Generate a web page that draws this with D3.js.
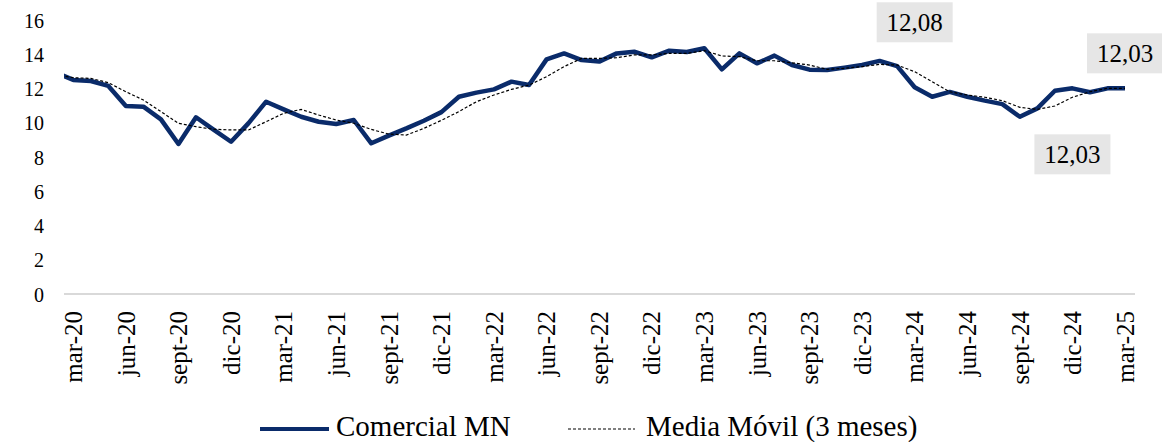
<!DOCTYPE html>
<html lang="es">
<head>
<meta charset="UTF-8">
<script src="https://cdn.jsdelivr.net/npm/d3@7/dist/d3.min.js"></script>
<style>
    body { margin: 0; background: #fff; }
    svg, svg text { font-family: "Liberation Serif", "DejaVu Serif", serif; }
    svg text { fill: #000; }
    .ytick { font-size: 20px; }
    .xtick { font-size: 25px; }
    .legend text { font-size: 29px; }
    .annot text { font-size: 25px; }
</style>
</head>
<body>
<svg width="1162" height="442"></svg>
<script>
// etiquetas del eje x (cada trimestre, mar-20 .. mar-25)
var tickLabels = ["mar-20","jun-20","sept-20","dic-20","mar-21","jun-21","sept-21","dic-21",
    "mar-22","jun-22","sept-22","dic-22","mar-23","jun-23","sept-23","dic-23",
    "mar-24","jun-24","sept-24","dic-24","mar-25"];
var yTicks = [0, 2, 4, 6, 8, 10, 12, 14, 16];

// valores mensuales feb-20 .. mar-25 (feb-20 queda recortado por el eje)
var comercialMN = [12.93,
    12.50, 12.44, 12.15, 10.98, 10.94, 10.20, 8.76, 10.32, 9.60, 8.89, 9.98, 11.23,
    10.78, 10.35, 10.06, 9.93, 10.16, 8.80, 9.25, 9.67, 10.12, 10.62, 11.52, 11.76,
    11.95, 12.40, 12.20, 13.70, 14.05, 13.66, 13.57, 14.05, 14.15, 13.82, 14.21, 14.13,
    14.35, 13.12, 14.05, 13.47, 13.92, 13.37, 13.10, 13.08, 13.22, 13.37, 13.61, 13.31,
    12.07, 11.52, 11.80, 11.52, 11.29, 11.09, 10.35, 10.84, 11.87, 12.01, 11.78, 12.01,
    12.01];
var mediaMovil = [12.80,
    12.63, 12.59, 12.34, 11.81, 11.33, 10.65, 9.97, 9.77, 9.62, 9.58, 9.58, 10.06,
    10.55, 10.78, 10.45, 10.16, 9.97, 9.61, 9.34, 9.28, 9.67, 10.14, 10.65, 11.23,
    11.62, 11.95, 12.20, 12.69, 13.28, 13.76, 13.76, 13.80, 13.96, 13.96, 14.05, 14.05,
    14.21, 13.90, 13.86, 13.62, 13.62, 13.50, 13.37, 13.12, 13.18, 13.28, 13.41, 13.37,
    12.98, 12.40, 11.81, 11.62, 11.49, 11.29, 10.90, 10.78, 10.98, 11.49, 11.81, 12.01,
    12.01];

// anotaciones: índice del mes (0 = mar-20) y texto
var annotIdx = [48, 60, 57];
var annotText = ["12,08", "12,03", "12,03"];
var annotDy = [-65, -35, 66];

var seriesNames = ["Comercial MN", "Media Móvil (3 meses)"];

var navy = "#0a2b6a";
var serif = "'Liberation Serif', 'DejaVu Serif', serif";
var svg = d3.select("svg").attr("font-family", serif);
var mLeft = 64, mRight = 1135, mTop = 0, mBottom = 294;

var x = d3.scaleLinear().domain([-0.53, 60.57]).range([mLeft, mRight]);
var y = d3.scaleLinear().domain([0, 16]).range([mBottom, 20]);

// línea base (0)
svg.append("line")
    .attr("x1", mLeft).attr("x2", mRight)
    .attr("y1", y(0)).attr("y2", y(0))
    .attr("stroke", "#d9d9d9").attr("stroke-width", 2);

// eje y
var yAxis = svg.append("g")
    .attr("transform", "translate(44,0)")
    .call(d3.axisLeft(y).tickValues(yTicks).tickSize(0).tickPadding(0));
yAxis.select(".domain").remove();
yAxis.attr("font-family", serif).attr("font-size", null);
yAxis.selectAll("text").attr("class", "ytick").attr("dy", "0.35em")
    .attr("font-family", serif);

// etiquetas del eje x (rotadas)
svg.append("g").selectAll("text")
    .data(tickLabels)
    .enter().append("text")
    .attr("class", "xtick")
    .attr("font-family", serif)
    .attr("text-anchor", "end")
    .attr("dy", "0.35em")
    .attr("transform", function(d, i) { return "translate(" + x(i * 3) + ",311) rotate(-90)"; })
    .text(function(d) { return d; });

// recorte del área de trazado
svg.append("clipPath").attr("id", "plot")
    .append("rect").attr("x", mLeft).attr("y", mTop)
    .attr("width", mRight - mLeft + 20).attr("height", mBottom - mTop);

var line = d3.line()
    .x(function(d, i) { return x(i - 1); })
    .y(function(d) { return y(d); });

var plot = svg.append("g").attr("clip-path", "url(#plot)");

plot.append("path")
    .datum(comercialMN)
    .attr("d", line)
    .attr("fill", "none")
    .attr("stroke", navy)
    .attr("stroke-width", 4.5)
    .attr("stroke-linejoin", "round");

plot.append("path")
    .datum(mediaMovil)
    .attr("d", line)
    .attr("fill", "none")
    .attr("stroke", "#000")
    .attr("stroke-width", 1.2)
    .attr("stroke-dasharray", "3,2");

// anotaciones
var annot = svg.append("g").attr("class", "annot").selectAll("g")
    .data(annotIdx)
    .enter().append("g")
    .attr("transform", function(d, i) {
        return "translate(" + x(d) + "," + (y(comercialMN[d + 1]) + annotDy[i]) + ")";
    });
annot.append("rect")
    .attr("x", -38).attr("y", -20)
    .attr("width", 76).attr("height", 40)
    .attr("fill", "#e6e6e6");
annot.append("text")
    .attr("font-family", serif)
    .attr("text-anchor", "middle")
    .attr("dy", "0.35em")
    .text(function(d, i) { return annotText[i]; });

// leyenda
var legend = svg.append("g").attr("class", "legend");
legend.append("line")
    .attr("x1", 260).attr("x2", 329).attr("y1", 429).attr("y2", 429)
    .attr("stroke", navy).attr("stroke-width", 4);
legend.append("text").attr("x", 336).attr("y", 436).text(seriesNames[0]);
legend.append("line")
    .attr("x1", 568).attr("x2", 635).attr("y1", 429).attr("y2", 429)
    .attr("stroke", "#000").attr("stroke-width", 1.2)
    .attr("stroke-dasharray", "3,2");
legend.append("text").attr("x", 646).attr("y", 436).text(seriesNames[1]);
</script>
</body>
</html>
